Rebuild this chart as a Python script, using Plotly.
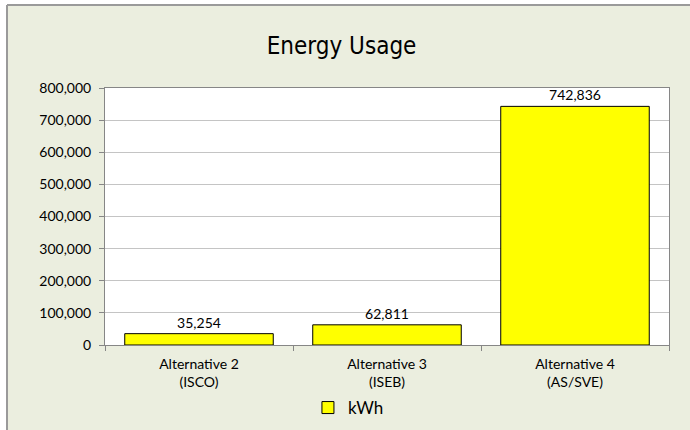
import plotly.graph_objects as go

# Energy usage per remediation alternative
categories = ["Alternative 2<br>(ISCO)", "Alternative 3<br>(ISEB)", "Alternative 4<br>(AS/SVE)"]
kwh = [35254, 62811, 742836]
series_name = "kWh"
y_ticks = [0, 100000, 200000, 300000, 400000, 500000, 600000, 700000, 800000]

W, H = 690, 430
ML, MR, MT, MB = 105, 21, 88, 85
PW, PH = W - ML - MR, H - MT - MB


def px_x(p):
    return (p - ML) / PW


def px_y(p):
    return (H - MB - p) / PH


FONT = "Lato, Open Sans, sans-serif"
label_font = dict(family=FONT, size=14, color="#000000")

fig = go.Figure(
    go.Bar(
        x=categories,
        y=kwh,
        name=series_name,
        marker=dict(color="#FFFF00", line=dict(color="#000000", width=1)),
        texttemplate="%{y:,}",
        textposition="outside",
        textfont=label_font,
        cliponaxis=False,
        showlegend=True,
    )
)

# outer frame: white edge strips and gray border lines
shapes = [
    dict(type="rect", xref="paper", yref="paper", x0=px_x(-5), x1=px_x(7), y0=px_y(H + 5), y1=px_y(-5),
         fillcolor="#FFFFFF", line=dict(width=0), layer="below"),
    dict(type="rect", xref="paper", yref="paper", x0=px_x(-5), x1=px_x(W + 5), y0=px_y(4), y1=px_y(-5),
         fillcolor="#FFFFFF", line=dict(width=0), layer="below"),
    dict(type="line", xref="paper", yref="paper", x0=px_x(7), x1=px_x(W + 5), y0=px_y(5), y1=px_y(5),
         line=dict(color="#9A9A9A", width=2), layer="below"),
    dict(type="line", xref="paper", yref="paper", x0=px_x(7), x1=px_x(7), y0=px_y(5), y1=px_y(H + 5),
         line=dict(color="#9A9A9A", width=2), layer="below"),
]

fig.update_layout(
    width=W,
    height=H,
    margin=dict(l=ML, r=MR, t=MT, b=MB, autoexpand=False),
    paper_bgcolor="#EBEEDF",
    plot_bgcolor="#FFFFFF",
    bargap=0.21,
    title=dict(
        text="Energy Usage",
        font=dict(family="DejaVu Sans Condensed, sans-serif", size=24, color="#000000"),
        x=0.495, xref="container", xanchor="center",
        y=1 - 46 / H, yref="container", yanchor="middle",
    ),
    legend=dict(
        orientation="h",
        x=0.505, xref="container", xanchor="center",
        y=1 - 408 / H, yref="container", yanchor="middle",
        font=dict(family=FONT, size=17, color="#000000"),
        bgcolor="rgba(0,0,0,0)",
        itemwidth=30,
    ),
    shapes=shapes,
    xaxis=dict(
        type="category",
        tickson="boundaries",
        ticks="outside",
        ticklen=5,
        tickcolor="#868686",
        showline=True,
        linecolor="#868686",
        linewidth=1,
        mirror=True,
        showgrid=False,
        ticklabelstandoff=6,
        tickfont=dict(family=FONT, size=14, color="#000000"),
    ),
    yaxis=dict(
        range=[0, 800000],
        tickvals=y_ticks,
        tickformat=",",
        ticks="outside",
        ticklen=5,
        tickcolor="#868686",
        showline=True,
        linecolor="#868686",
        linewidth=1,
        mirror=True,
        showgrid=True,
        gridcolor="#C4C4C4",
        gridwidth=1,
        zeroline=False,
        ticklabelstandoff=5,
        tickfont=dict(family=FONT, size=14, color="#000000"),
    ),
)

fig.write_html("out.html")
